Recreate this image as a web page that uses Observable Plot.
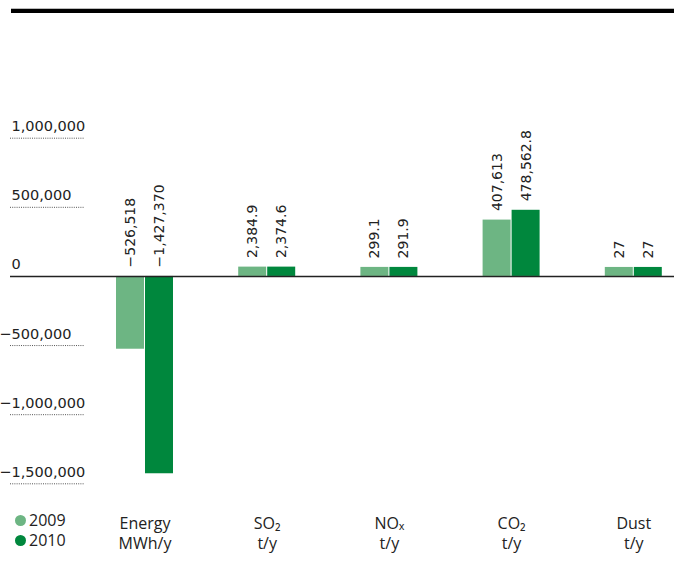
<!DOCTYPE html>
<html>
<head>
<meta charset="utf-8">
<script src="https://cdn.jsdelivr.net/npm/d3@7"></script>
<script src="https://cdn.jsdelivr.net/npm/@observablehq/plot@0.6"></script>
<style>
  html, body { margin: 0; padding: 0; background: #fff; }
  #wrap { position: relative; width: 674px; height: 570px; overflow: hidden; }
  #topbar { position: absolute; left: 11px; right: 0; top: 8px; height: 4px;
            background: #000; border-top: 1px solid #bbb; }
  #legend { position: absolute; left: 15px; top: 510px; font-family: "Open Sans", sans-serif;
            font-size: 16px; color: #222; line-height: 20px; }
  #legend .item { display: flex; align-items: center; }
  #legend .sw { flex: 0 0 auto; width: 11px; height: 11px; border-radius: 50%; margin-right: 3px; }
  #chart { position: absolute; left: 0; top: 0; }
</style>
</head>
<body>
<div id="wrap">
  <div id="topbar"></div>
  <div id="chart"></div>
  <div id="legend"></div>
</div>
<script>
// Emission and energy savings, 2009 vs 2010
const categories = ["Energy", "SO₂", "NOₓ", "CO₂", "Dust"];
const units = ["MWh/y", "t/y", "t/y", "t/y", "t/y"];
const years = ["2009", "2010"];
const values2009 = [-526518, 2384.9, 299.1, 407613, 27];
const values2010 = [-1427370, 2374.6, 291.9, 478562.8, 27];
const yTicks = [-1500000, -1000000, -500000, 0, 500000, 1000000];
const colors = ["#6db583", "#00873d"];

// tidy table built from the arrays above
const rows = [];
categories.forEach((c, i) => {
  rows.push({category: c, year: years[0], value: values2009[i]});
  rows.push({category: c, year: years[1], value: values2010[i]});
});

// tiny values get a minimum visible bar height
const SMALL = 60000;
const isSmall = d => Math.abs(d.value) < SMALL;
const fmt = d3.format(",");
const numFont = "DejaVu Sans, sans-serif";
const catFont = "Open Sans, sans-serif";

function barMarks(year, side) {
  const inset = side === "left" ? {insetRight: 29} : {insetLeft: 29};
  const fill = colors[years.indexOf(year)];
  const big = rows.filter(d => d.year === year && !isSmall(d));
  const small = rows.filter(d => d.year === year && isSmall(d));
  return [
    Plot.barY(big, {x: "category", y: "value", fill, ...inset}),
    Plot.barY(small, {x: "category", y: "value", fill, insetTop: -9, ...inset})
  ];
}

function labelMarks(year, dx) {
  const data = rows.filter(d => d.year === year);
  const common = {
    x: "category",
    text: d => fmt(d.value),
    rotate: -90,
    textAnchor: "start",
    lineAnchor: "middle",
    dx,
    fontSize: 14,
    fontFamily: numFont,
    fill: "#222"
  };
  return [
    Plot.text(data.filter(d => !isSmall(d)), {...common, y: d => Math.max(0, d.value), dy: -9}),
    Plot.text(data.filter(isSmall), {...common, y: d => Math.max(0, d.value), dy: -18})
  ];
}

const chart = Plot.plot({
  width: 674,
  height: 570,
  marginLeft: 10,
  marginRight: 0,
  marginTop: 20,
  marginBottom: 60,
  x: {type: "band", domain: categories, range: [50.8, 727], padding: 0.5336, round: false, axis: null},
  y: {domain: [-1500000, 1000000], range: [483.3, 137.7], axis: null},
  style: {background: "transparent"},
  marks: [
    // short dotted guide lines under the tick labels
    Plot.ruleY(yTicks.filter(v => v !== 0), {y: d => d, stroke: "#555", strokeWidth: 1,
      strokeDasharray: "1,1.2", insetRight: 590}),
    // tick labels
    Plot.text(yTicks, {y: d => d, text: d => fmt(Math.abs(d)), frameAnchor: "left",
      textAnchor: "start", lineAnchor: "bottom", dx: 1, dy: -7,
      fontSize: 14.5, fontFamily: numFont, fill: "#222"}),
    Plot.text(yTicks.filter(v => v < 0), {y: d => d, text: () => "−", frameAnchor: "left",
      textAnchor: "end", lineAnchor: "bottom", dx: 1, dy: -7,
      fontSize: 14.5, fontFamily: numFont, fill: "#222"}),
    ...barMarks("2009", "left"),
    ...barMarks("2010", "right"),
    Plot.ruleY([0], {stroke: "#222", strokeWidth: 1.5}),
    ...labelMarks("2009", -14.5),
    ...labelMarks("2010", 14.5),
    // category names with units
    Plot.text(categories, {x: d => d, text: (d, i) => `${d}\n${units[i]}`,
      frameAnchor: "bottom", lineAnchor: "top", dy: 4, lineHeight: 1.25,
      fontSize: 16, fontFamily: catFont, fill: "#222"})
  ]
});
document.getElementById("chart").appendChild(chart);

// legend
const legend = document.getElementById("legend");
years.forEach((y, i) => {
  const item = document.createElement("div");
  item.className = "item";
  const sw = document.createElement("span");
  sw.className = "sw";
  sw.style.background = colors[i];
  const t = document.createElement("span");
  t.textContent = y;
  item.appendChild(sw);
  item.appendChild(t);
  legend.appendChild(item);
});
</script>
</body>
</html>
